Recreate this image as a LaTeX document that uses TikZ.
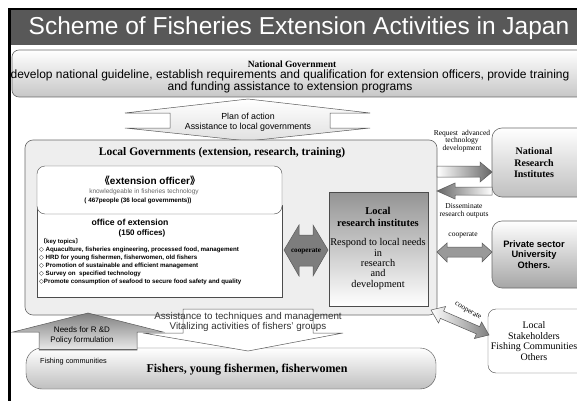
\documentclass[tikz,border=0pt]{standalone}
\usepackage{fontspec}
\setmainfont{Liberation Serif}
\setsansfont{Liberation Sans}
\newfontfamily\symfont{DejaVu Sans}
\newfontfamily\cjkfont{Noto Sans CJK JP}
\usetikzlibrary{positioning}
\definecolor{titlegray}{RGB}{88,88,88}
\definecolor{panelgray}{RGB}{238,238,238}
\definecolor{edgegray}{RGB}{105,105,105}
\definecolor{coopgray}{RGB}{125,125,125}
\newcommand{\dia}{{\symfont\char"25C7}}

\begin{document}
\begin{tikzpicture}[x=1pt, y=-1pt,
    panel/.style={draw=edgegray, line width=0.6pt},
    arrowshape/.style={draw=black!65, line width=0.5pt},
    txt/.style={inner sep=0pt, align=center},
  ]
  \useasboundingbox (0,0) rectangle (577,401);
  \fill[white] (0,0) rectangle (577,401);

  % frame and title bar
  \fill[titlegray] (10,9) rectangle (577,45);
  \draw[black, line width=1.5pt] (577,9) -- (9,9);
  \draw[black, line width=3pt] (9.5,8.5) -- (9.5,401);
  \node[txt, text=white, font=\sffamily\fontsize{24.5}{24.5}\selectfont] (title) at (299,28) {Scheme of Fisheries Extension Activities in Japan};

  % National Government
  \draw[panel, rounded corners=7pt, top color=white, bottom color=black!22] (12,50) rectangle (595,97);
  \node[txt, font=\bfseries\fontsize{9.5}{10}\selectfont] (natgov) at (292,64) {National Government};
  \node[txt, font=\sffamily\fontsize{12}{11}\selectfont] (natgovtext) at (290,81.5) {develop national guideline, establish requirements and qualification for extension officers, provide training\\and funding assistance to extension programs};

  % plan of action (up-down arrow)
  \draw[arrowshape, top color=white, bottom color=black!12] (248,99) -- (370,113) -- (330,113) -- (330,128) -- (370,128) -- (248,141) -- (125,128) -- (170,128) -- (170,113) -- (125,113) -- cycle;
  \node[txt, font=\sffamily\fontsize{8.8}{10}\selectfont] (plan) at (248,122) {Plan of action\\Assistance to local governments};

  % Local Governments
  \draw[panel, rounded corners=8pt, fill=panelgray] (25,140) rectangle (437,315);
  \node[txt, font=\bfseries\fontsize{11.5}{12}\selectfont] (localgov) at (222,153) {Local Governments (extension, research, training)};

  % office of extension
  \draw[black!70, fill=white] (37,205) rectangle (282,297);
  \node[txt, font=\sffamily\bfseries\fontsize{8.7}{10}\selectfont] (office) at (130,222) {office of extension};
  \node[txt, font=\sffamily\bfseries\fontsize{8}{8}\selectfont] (offices) at (142,233) {(150 offices)};
  \node[txt, anchor=west, font=\sffamily\bfseries\fontsize{6}{8}\selectfont] (topics) at (40,242) {{\cjkfont 〔}key topics{\cjkfont 〕}};
  \node[anchor=north west, inner sep=0pt, align=left, font=\sffamily\bfseries\fontsize{6.2}{8}\selectfont] (topiclist) at (39,247)
    {\dia\ Aquaculture, fisheries engineering, processed food, management\\
     \dia\ HRD for young fishermen, fisherwomen, old fishers\\
     \dia\ Promotion of sustainable and efficient management\\
     \dia\ Survey on\ \ specified technology\\
     \dia Promote consumption of seafood to secure food safety and quality};

  % extension officer
  \draw[black!70, fill=white, rounded corners=8pt] (37,166) rectangle (282,214);
  \node[txt, font=\sffamily\bfseries\fontsize{10}{10}\selectfont] (officer) at (150,181) {{\cjkfont 《}extension officer{\cjkfont 》}};
  \node[txt, text=black!60, font=\sffamily\fontsize{6.5}{8}\selectfont] (knowledge) at (144,192) {knowledgeable in fisheries technology};
  \node[txt, font=\sffamily\bfseries\fontsize{6.3}{8}\selectfont] (people) at (138,200.5) {( 467people (36 local governments))};

  % cooperate (left-right arrow)
  \draw[arrowshape, fill=coopgray] (284,250) -- (299,225) -- (299,235) -- (313,235) -- (313,225) -- (328,250) -- (313,276) -- (313,266) -- (299,266) -- (299,276) -- cycle;
  \node[txt, font=\bfseries\fontsize{7.2}{8}\selectfont] (coop) at (306,251) {cooperate};

  % Local research institutes
  \draw[black!70, top color=black!42, bottom color=white] (329,192) rectangle (428,306);
  \node[txt, font=\bfseries\fontsize{10.5}{11.5}\selectfont] (localri) at (378,217) {Local\\research institutes};
  \node[txt, font=\fontsize{10.3}{10.4}\selectfont] (respond) at (378,264) {Respond to local needs\\in\\research\\and\\development};

  % National Research Institutes
  \draw[panel, rounded corners=10pt, top color=white, bottom color=black!25] (492,128) rectangle (600,197);
  \node[txt, font=\bfseries\fontsize{10}{11.5}\selectfont] (nri) at (534,163) {National\\Research\\Institutes};
  \draw[arrowshape, left color=white, right color=black!60] (437,166) -- (480,166) -- (480,162) -- (492,172) -- (480,182) -- (480,177) -- (437,177) -- cycle;
  \node[txt, font=\fontsize{7.5}{7.5}\selectfont] (request) at (462,141) {Request\ \ advanced\\technology\\development};
  \draw[arrowshape, left color=black!60, right color=white] (492,187) -- (455,187) -- (455,183) -- (437,191) -- (455,199) -- (455,195) -- (492,195) -- cycle;
  \node[txt, font=\fontsize{7.5}{7.8}\selectfont] (dissem) at (464,211) {Disseminate\\research outputs};

  % Private sector
  \draw[panel, rounded corners=10pt, top color=white, bottom color=black!35] (492,221) rectangle (600,288);
  \node[txt, font=\sffamily\bfseries\fontsize{9.3}{10.5}\selectfont] (private) at (534,254.5) {Private sector\\University\\Others.};
  \draw[arrowshape, left color=black!40, middle color=white, right color=black!40] (437,252) -- (447,243) -- (447,247) -- (482,247) -- (482,243) -- (492,252) -- (482,262) -- (482,257) -- (447,257) -- (447,262) -- cycle;
  \node[txt, font=\fontsize{7.5}{7.5}\selectfont] (coopprivate) at (463,235) {cooperate};

  % Local stakeholders
  \draw[black!70, fill=white, rounded corners=8pt] (488,309) rectangle (600,373);
  \node[txt, font=\fontsize{10}{10.7}\selectfont] (stake) at (534,341) {Local\\Stakeholders\\Fishing Communities\\Others};
  \draw[arrowshape, left color=white, right color=black!50] (431,310) -- (438.5,323) -- (440.4,318.4) -- (476.4,333.9) -- (474.4,338.5) -- (489,335) -- (481.6,322) -- (479.6,326.6) -- (443.6,311.1) -- (445.6,306.5) -- cycle;
  \node[txt, rotate=-30, font=\fontsize{7.5}{7.5}\selectfont] (coopstake) at (468,311) {cooperate};

  % Fishers
  \draw[black!70, rounded corners=16pt, top color=white, bottom color=black!25] (26,348) rectangle (436,389);
  \node[txt, anchor=west, font=\sffamily\fontsize{7.3}{8}\selectfont] (community) at (40,362) {Fishing communities};
  \node[txt, font=\bfseries\fontsize{12}{12}\selectfont] (fishers) at (247,370) {Fishers, young fishermen, fisherwomen};

  % needs for R&D (up arrow)
  \draw[arrowshape, top color=black!50, bottom color=black!8] (88,313) -- (163,332) -- (137,332) -- (137,350) -- (39,350) -- (39,332) -- (13,332) -- cycle;
  \draw[black!60, line width=1.2pt] (39,349.5) -- (137,349.5);
  \node[txt, font=\sffamily\fontsize{8}{10}\selectfont] (needs) at (82,335) {Needs for R \&D\\Policy formulation};

  % assistance to fishers (down arrow)
  \draw[arrowshape, fill=white] (183,309) -- (313,309) -- (313,333) -- (343,333) -- (248,351) -- (143,333) -- (183,333) -- cycle;
  \node[txt, text=black!80, font=\sffamily\fontsize{9.8}{9}\selectfont] (assist) at (248,322) {Assistance to techniques and management\\Vitalizing activities of fishers' groups};
\end{tikzpicture}
\end{document}
